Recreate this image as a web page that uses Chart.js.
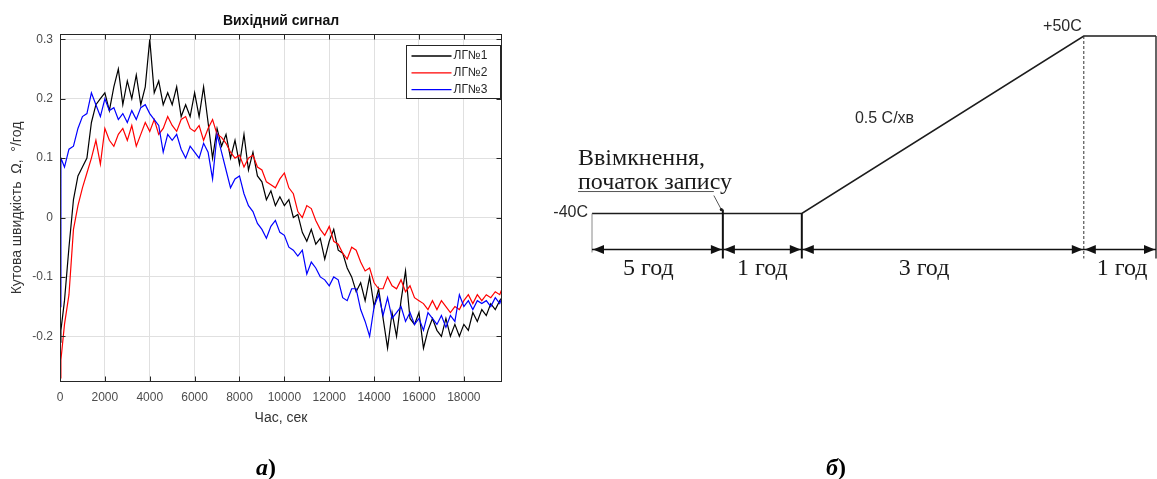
<!DOCTYPE html>
<html lang="uk">
<head>
<meta charset="utf-8">
<script src="https://cdn.jsdelivr.net/npm/chart.js@4.4.1/dist/chart.umd.min.js"></script>
<style>
  html, body { margin: 0; padding: 0; background: #fff; }
  body { width: 1157px; height: 479px; position: relative; overflow: hidden; }
  #signal_chart { position: absolute; left: 0; top: 0; }
  #profile_chart { position: absolute; left: 540px; top: 0; }
  .caption { position: absolute; top: 454px; line-height: 24px; font: italic bold 24px "Liberation Serif", "Times New Roman", serif; color: #000; }
  .caption span { font-style: normal; }
</style>
</head>
<body>
<canvas id="signal_chart" width="540" height="479"></canvas>
<canvas id="profile_chart" width="617" height="479"></canvas>
<div class="caption" style="left:256px">а<span>)</span></div>
<div class="caption" style="left:826px">б<span>)</span></div>
<script>
// (а) output signal of three gyros, °/год vs seconds
const time = [
  0, 40, 200, 400, 600, 800, 1000, 1200, 1400, 1600, 1800,
  2000, 2200, 2400, 2600, 2800, 3000, 3200, 3400, 3600, 3800,
  4000, 4200, 4400, 4600, 4800, 5000, 5200, 5400, 5600, 5800,
  6000, 6200, 6400, 6600, 6800, 7000, 7200, 7400, 7600, 7800,
  8000, 8200, 8400, 8600, 8800, 9000, 9200, 9400, 9600, 9800,
  10000, 10200, 10400, 10600, 10800, 11000, 11200, 11400, 11600, 11800,
  12000, 12200, 12400, 12600, 12800, 13000, 13200, 13400, 13600, 13800,
  14000, 14200, 14400, 14600, 14800, 15000, 15200, 15400, 15600, 15800,
  16000, 16200, 16400, 16600, 16800, 17000, 17200, 17400, 17600, 17800,
  18000, 18200, 18400, 18600, 18800, 19000, 19200, 19400, 19600, 19700
];
const lg1 = [
  -0.21, -0.19, -0.14, -0.05, 0.03, 0.07, 0.085, 0.1, 0.16, 0.19, 0.2,
  0.21, 0.18, 0.22, 0.25, 0.19, 0.23, 0.2, 0.24, 0.19, 0.22,
  0.3, 0.21, 0.23, 0.19, 0.21, 0.19, 0.22, 0.17, 0.19, 0.17,
  0.21, 0.17, 0.22, 0.16, 0.1, 0.15, 0.12, 0.14, 0.1, 0.13,
  0.09, 0.14, 0.08, 0.11, 0.07, 0.06, 0.03, 0.045, 0.02, 0.035,
  0.02, 0.03, 0.0, 0.005, -0.025, -0.04, -0.02, -0.045, -0.035, -0.07,
  -0.04, -0.02, -0.055, -0.06, -0.085, -0.1, -0.125, -0.11, -0.14, -0.1,
  -0.15, -0.12, -0.17, -0.22, -0.16, -0.2, -0.14, -0.09, -0.17, -0.18,
  -0.16, -0.22, -0.19, -0.17, -0.19, -0.2, -0.17, -0.2, -0.18, -0.2,
  -0.18, -0.19, -0.16, -0.175, -0.155, -0.165, -0.145, -0.155, -0.14, -0.135
];
const lg2 = [
  -0.27, -0.24, -0.18, -0.13, -0.02, 0.02, 0.05, 0.075, 0.1, 0.13, 0.09,
  0.15, 0.13, 0.12, 0.14, 0.15, 0.13, 0.155, 0.12, 0.14, 0.16,
  0.145, 0.165, 0.14, 0.15, 0.17, 0.155, 0.145, 0.165, 0.17, 0.15,
  0.145, 0.155, 0.13, 0.15, 0.165, 0.14, 0.135, 0.125, 0.11, 0.1,
  0.105, 0.085, 0.1, 0.105, 0.085, 0.08, 0.06, 0.055, 0.05, 0.065,
  0.075, 0.05, 0.04, 0.01, 0.0, 0.02, 0.015, -0.005, -0.02, -0.03,
  -0.015, -0.04, -0.045, -0.06, -0.07, -0.05, -0.055, -0.075, -0.09, -0.085,
  -0.11, -0.12, -0.12, -0.1, -0.115, -0.12, -0.105, -0.125, -0.115, -0.135,
  -0.14, -0.145, -0.155, -0.14, -0.155, -0.14, -0.15, -0.16, -0.15, -0.155,
  -0.14, -0.13, -0.145, -0.13, -0.14, -0.13, -0.135, -0.125, -0.13, -0.12
];
const lg3 = [
  -0.15, 0.1, 0.085, 0.115, 0.12, 0.15, 0.17, 0.175, 0.21, 0.19, 0.17,
  0.2, 0.18, 0.185, 0.165, 0.175, 0.16, 0.18, 0.165, 0.185, 0.19,
  0.175, 0.165, 0.155, 0.11, 0.14, 0.13, 0.14, 0.115, 0.1, 0.12,
  0.11, 0.1, 0.125, 0.11, 0.065, 0.14, 0.11, 0.08, 0.05, 0.065,
  0.07, 0.04, 0.02, 0.01, -0.01, -0.02, -0.035, -0.015, -0.005, -0.025,
  -0.03, -0.05, -0.055, -0.065, -0.055, -0.095, -0.075, -0.085, -0.1, -0.105,
  -0.115, -0.1, -0.105, -0.135, -0.14, -0.12, -0.12, -0.155, -0.175, -0.2,
  -0.15, -0.13, -0.165, -0.135, -0.17, -0.16, -0.15, -0.175, -0.16, -0.18,
  -0.17, -0.19, -0.16, -0.17, -0.18, -0.165, -0.185, -0.165, -0.175, -0.13,
  -0.15, -0.14, -0.155, -0.14, -0.145, -0.14, -0.15, -0.135, -0.145, -0.135
];
const seriesNames = ["ЛГ№1", "ЛГ№2", "ЛГ№3"];
const seriesColors = ["#000000", "#ff0000", "#0000ff"];
const xTicks = [0, 2000, 4000, 6000, 8000, 10000, 12000, 14000, 16000, 18000];
const yTicks = [-0.2, -0.1, 0, 0.1, 0.2, 0.3];
const signalTitle = "Вихідний сигнал";

// (б) temperature profile of the test
const profileHours = [0, 5, 6, 9, 10];
const profileTemp = [-40, -40, -40, 50, 50];
const stageBounds = [0, 5, 6, 9, 10];
const stageLabels = ["5 год", "1 год", "3 год", "1 год"];
const rampLabel = "0.5 С/хв";
const startNote = ["Ввімкнення,", "початок запису"];

Chart.defaults.font.family = '"Liberation Sans", Arial, sans-serif';

const sans = '"Liberation Sans", Arial, sans-serif';
const serif = '"Liberation Serif", "Times New Roman", serif';

// MATLAB style box: inner ticks on all sides, title and boxed legend
const matlabAxes = {
    id: "matlabAxes",
    afterDatasetsDraw(chart) {
        const { ctx, chartArea: a, scales: { x, y } } = chart;
        const L = Math.round(a.left) + 0.5, R = Math.round(a.right) - 0.5;
        const T = Math.round(a.top) + 0.5, B = Math.round(a.bottom) - 0.5;
        ctx.save();
        ctx.strokeStyle = "#262626";
        ctx.lineWidth = 1;
        ctx.beginPath();
        x.ticks.forEach(t => {
            const px = Math.round(x.getPixelForValue(t.value)) + 0.5;
            ctx.moveTo(px, B); ctx.lineTo(px, B - 5);
            ctx.moveTo(px, T); ctx.lineTo(px, T + 5);
        });
        y.ticks.forEach(t => {
            const py = Math.round(y.getPixelForValue(t.value)) + 0.5;
            ctx.moveTo(L, py); ctx.lineTo(L + 5, py);
            ctx.moveTo(R, py); ctx.lineTo(R - 5, py);
        });
        ctx.stroke();
        ctx.strokeRect(L, T, R - L, B - T);

        ctx.fillStyle = "#111";
        ctx.font = "bold 14px " + sans;
        ctx.textAlign = "center";
        ctx.textBaseline = "middle";
        ctx.fillText(signalTitle, (a.left + a.right) / 2, a.top - 12.5);

        const bw = 94, bh = 53;
        const bx = Math.round(a.right) - 1.5 - bw, by = Math.round(a.top) + 11.5;
        ctx.fillStyle = "#fff";
        ctx.fillRect(bx, by, bw, bh);
        ctx.strokeRect(bx, by, bw, bh);
        ctx.font = "12px " + sans;
        ctx.textAlign = "left";
        chart.data.datasets.forEach((ds, i) => {
            const ly = by + 10.5 + i * 16.8;
            ctx.strokeStyle = ds.borderColor;
            ctx.lineWidth = 1.3;
            ctx.beginPath();
            ctx.moveTo(bx + 5, ly); ctx.lineTo(bx + 45, ly);
            ctx.stroke();
            ctx.fillStyle = "#262626";
            ctx.fillText(ds.label, bx + 47, ly);
        });
        ctx.restore();
    }
};

const signalChart = new Chart(document.getElementById("signal_chart"), {
    type: "line",
    data: {
        datasets: [lg1, lg2, lg3].map((vals, i) => ({
            label: seriesNames[i],
            data: time.map((t, k) => ({ x: t, y: vals[k] })),
            borderColor: seriesColors[i],
            borderWidth: 1.2,
            pointRadius: 0,
            tension: 0,
            order: 3 - i
        }))
    },
    options: {
        responsive: false,
        animation: false,
        events: [],
        layout: { padding: { left: 0, top: 34, right: 38, bottom: 52 } },
        plugins: { legend: { display: false }, tooltip: { enabled: false } },
        scales: {
            x: {
                type: "linear", min: 0, max: 19700,
                grid: { color: "#e0e0e0", drawTicks: false },
                border: { display: false },
                afterBuildTicks: s => { s.ticks = xTicks.map(v => ({ value: v })); },
                ticks: {
                    autoSkip: false, maxRotation: 0,
                    padding: 8, color: "#4d4d4d", font: { size: 12 },
                    callback: v => String(v)
                },
                title: { display: true, text: "Час, сек", color: "#333", font: { size: 14 }, padding: 0 },
                afterFit: s => { s.height = 45; }
            },
            y: {
                type: "linear", min: -0.277, max: 0.309,
                grid: { color: "#e0e0e0", drawTicks: false },
                border: { display: false },
                afterBuildTicks: s => { s.ticks = yTicks.map(v => ({ value: v })); },
                ticks: {
                    padding: 7, color: "#4d4d4d", font: { size: 12 },
                    callback: v => (Math.abs(v) < 1e-9 ? "0" : v.toFixed(1))
                },
                title: { display: true, text: "Кутова швидкість  Ω,  °/год", color: "#333", font: { size: 14 }, padding: { top: 9, bottom: 9 } },
                afterFit: s => { s.width = 60; }
            }
        }
    },
    plugins: [matlabAxes]
});

// the diagram is not drawn to scale: each stage gets its own share of the width
const stageShare = [0, 0.232, 0.372, 0.872, 1];
class StageScale extends Chart.LinearScale {
    getPixelForValue(value) {
        let i = 0;
        while (i < stageBounds.length - 2 && value > stageBounds[i + 1]) i++;
        const t = (value - stageBounds[i]) / (stageBounds[i + 1] - stageBounds[i]);
        return this.left + (stageShare[i] + t * (stageShare[i + 1] - stageShare[i])) * this.width;
    }
}
StageScale.id = "stage";
StageScale.defaults = Chart.LinearScale.defaults;
Chart.register(StageScale);

const stageLabelAt = [2.15, 5.5, 7.3, 9.53];
const degText = t => (t > 0 ? "+" : "") + t + "C";

const profileMarks = {
    id: "profileMarks",
    afterDatasetsDraw(chart) {
        const { ctx, scales: { x, y } } = chart;
        const yLow = y.getPixelForValue(profileTemp[0]);
        const yHigh = y.getPixelForValue(profileTemp[profileTemp.length - 1]);
        const dimY = Math.round(yLow + 35) + 0.5;
        const tickEnd = dimY + 9;
        const xs = stageBounds.map(h => x.getPixelForValue(h));
        ctx.save();

        const vline = (px, y0, y1, w, color, dash) => {
            ctx.strokeStyle = color;
            ctx.lineWidth = w;
            ctx.setLineDash(dash);
            ctx.beginPath();
            ctx.moveTo(px, y0); ctx.lineTo(px, y1);
            ctx.stroke();
        };
        vline(xs[0], yLow, dimY + 3, 1, "#8a8a8a", []);
        vline(xs[1], yLow - 4, tickEnd, 2, "#111", []);
        vline(xs[2], yLow, tickEnd, 2, "#111", []);
        vline(xs[3], yHigh, tickEnd, 1, "#333", [3, 2]);
        vline(xs[4], yHigh, tickEnd, 1.5, "#333", []);
        ctx.setLineDash([]);

        ctx.strokeStyle = "#111";
        ctx.lineWidth = 1.5;
        ctx.beginPath();
        ctx.moveTo(xs[0], dimY); ctx.lineTo(xs[4], dimY);
        ctx.stroke();

        const arrow = (tip, dir) => {
            ctx.beginPath();
            ctx.moveTo(tip, dimY);
            ctx.lineTo(tip + dir * 11, dimY - 4.5);
            ctx.lineTo(tip + dir * 11, dimY + 4.5);
            ctx.closePath();
            ctx.fill();
        };
        ctx.fillStyle = "#111";
        for (let i = 0; i < stageLabels.length; i++) {
            arrow(xs[i] + 1, 1);
            arrow(xs[i + 1] - 1, -1);
        }

        ctx.fillStyle = "#1a1a1a";
        ctx.font = "24px " + serif;
        ctx.textAlign = "center";
        ctx.textBaseline = "middle";
        stageLabels.forEach((s, i) => ctx.fillText(s, x.getPixelForValue(stageLabelAt[i]), dimY + 19));

        ctx.textAlign = "left";
        ctx.fillText(startNote[0], xs[0] - 14, yLow - 55);
        ctx.fillText(startNote[1], xs[0] - 14, yLow - 31);
        ctx.strokeStyle = "#555";
        ctx.lineWidth = 1;
        ctx.beginPath();
        ctx.moveTo(xs[0] - 14, yLow - 22); ctx.lineTo(xs[1] - 9, yLow - 22);
        ctx.moveTo(xs[1] - 9, yLow - 18); ctx.lineTo(xs[1] - 1, yLow - 3);
        ctx.stroke();
        ctx.beginPath();
        ctx.arc(xs[1] - 1.5, yLow - 4, 1.6, 0, Math.PI * 2);
        ctx.fill();

        ctx.fillStyle = "#2a2a2a";
        ctx.font = "16px " + sans;
        ctx.textAlign = "right";
        ctx.fillText(degText(profileTemp[0]), xs[0] - 4, yLow - 1);
        ctx.fillText(degText(profileTemp[profileTemp.length - 1]), xs[3] - 2, yHigh - 9);
        ctx.textAlign = "center";
        ctx.fillText(rampLabel, x.getPixelForValue(6.88), y.getPixelForValue(8));
        ctx.restore();
    }
};

const profileChart = new Chart(document.getElementById("profile_chart"), {
    type: "line",
    data: {
        datasets: [{
            data: profileHours.map((h, i) => ({ x: h, y: profileTemp[i] })),
            borderColor: "#1c1c1c",
            borderWidth: 1.6,
            pointRadius: 0,
            tension: 0,
            clip: false
        }]
    },
    options: {
        responsive: false,
        animation: false,
        events: [],
        layout: { padding: { left: 52, right: 1, top: 36, bottom: 226 } },
        plugins: { legend: { display: false }, tooltip: { enabled: false } },
        scales: {
            x: { type: "stage", min: 0, max: 10, display: false },
            y: { type: "linear", min: -60, max: 50, display: false }
        }
    },
    plugins: [profileMarks]
});
</script>
</body>
</html>
